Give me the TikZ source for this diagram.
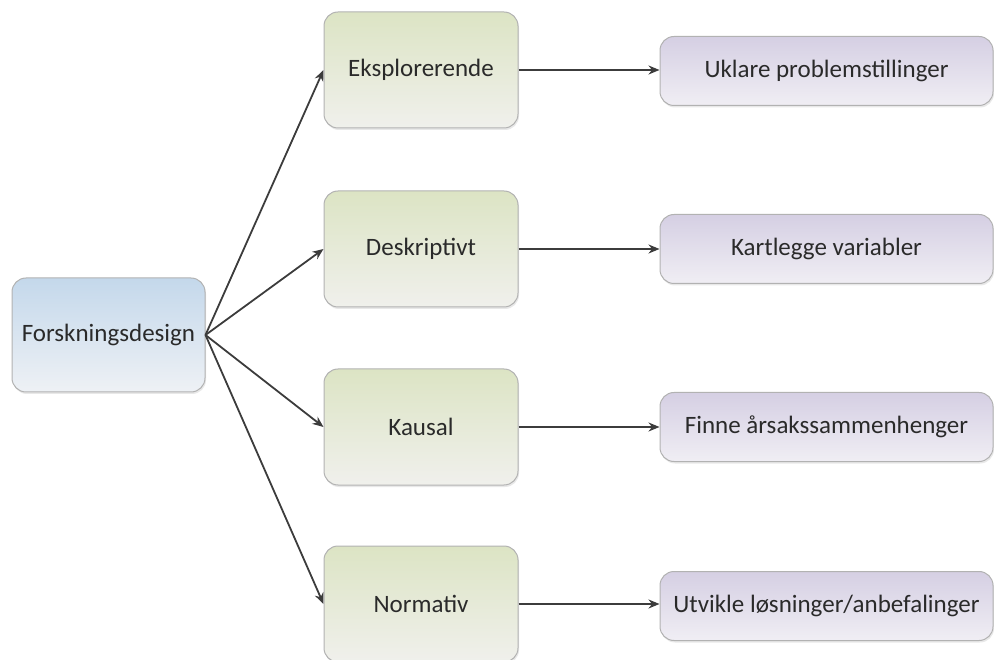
\documentclass[tikz,border=0pt]{standalone}
\usepackage{fontspec}
\setmainfont{Carlito}
\usetikzlibrary{arrows.meta,shadows}
\definecolor{boxline}{HTML}{B2B2B2}
\definecolor{txt}{HTML}{2A2A2A}
\definecolor{arr}{HTML}{3C3C3C}
\definecolor{bluetop}{HTML}{C4D8EB}
\definecolor{bluebot}{HTML}{EEF1F5}
\definecolor{greentop}{HTML}{DCE4C4}
\definecolor{greenbot}{HTML}{F0F0EC}
\definecolor{purptop}{HTML}{D5CFE3}
\definecolor{purpbot}{HTML}{F0EEF4}
\begin{document}
\begin{tikzpicture}[x=1pt,y=-1pt,
  box/.style={rounded corners=14pt, draw=boxline, line width=1pt,
    font=\fontsize{25}{30}\selectfont, text=txt, inner sep=0pt, align=center,
    drop shadow={shadow xshift=1pt, shadow yshift=-2pt, opacity=0.18}},
  mainbox/.style={box, top color=bluetop, bottom color=bluebot, minimum width=193pt, minimum height=114pt},
  greenbox/.style={box, top color=greentop, bottom color=greenbot, minimum width=194pt, minimum height=116pt},
  purpbox/.style={box, top color=purptop, bottom color=purpbot, minimum width=333pt, minimum height=69pt},
  conn/.style={draw=arr, line width=1.8pt, -{Stealth[length=11pt,width=9pt]}}
]
\useasboundingbox (0,0) rectangle (994,660);
\node[mainbox] (main) at (108.5,335) {Forskningsdesign};

\node[greenbox] (g1) at (421,70) {Eksplorerende};
\node[greenbox] (g2) at (421,249) {Deskriptivt};
\node[greenbox] (g3) at (421,427) {Kausal};
\node[greenbox] (g4) at (421,604) {Normativ};

\node[purpbox] (p1) at (826.5,71) {Uklare problemstillinger};
\node[purpbox] (p2) at (826.5,249) {Kartlegge variabler};
\node[purpbox] (p3) at (826.5,427) {Finne årsakssammenhenger};
\node[purpbox] (p4) at (826.5,606) {Utvikle løsninger/anbefalinger};

\foreach \i in {1,2,3,4}{
  \draw[conn] (main.east) -- (g\i.west);
  \draw[conn] (g\i.east) -- (p\i.west |- g\i.east);
}
\end{tikzpicture}
\end{document}
